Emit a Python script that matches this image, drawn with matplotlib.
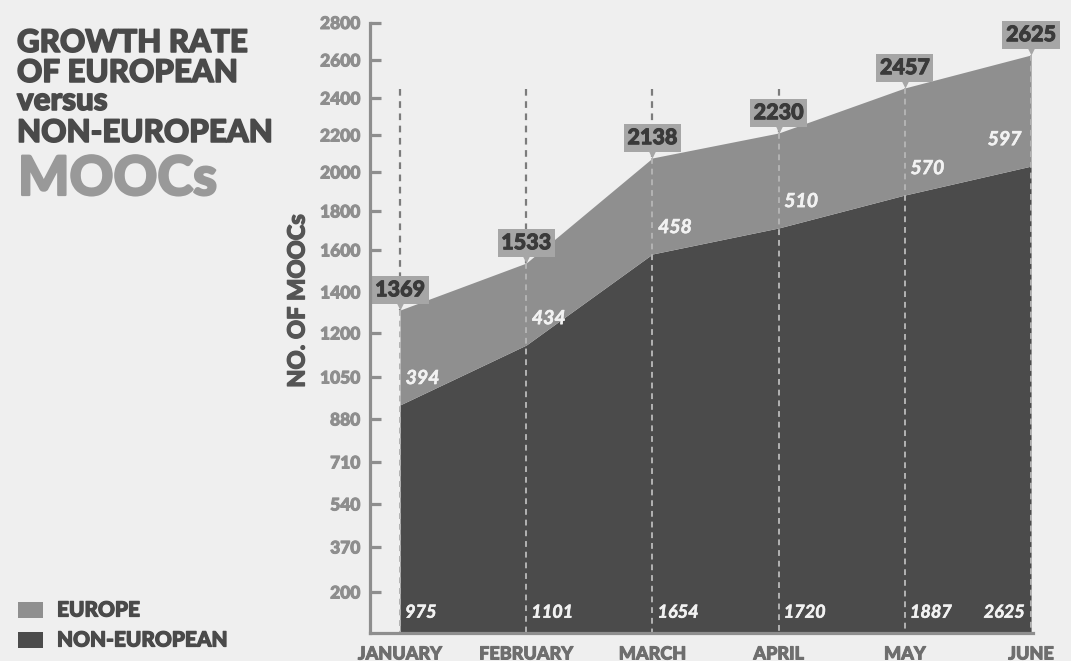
import numpy as np
import matplotlib.pyplot as plt
from matplotlib.patches import Rectangle
import matplotlib.transforms as mtransforms
import matplotlib.patheffects as pe

plt.rcParams['font.family'] = ['Lato', 'DejaVu Sans']

# data
months = ['JANUARY', 'FEBRUARY', 'MARCH', 'APRIL', 'MAY', 'JUNE']
total_labels = [1369, 1533, 2138, 2230, 2457, 2625]
europe_labels = [394, 434, 458, 510, 570, 597]
noneu_labels = [975, 1101, 1654, 1720, 1887, 2625]
# area edges as drawn in the picture
total_top = [1312, 1538, 2076, 2211, 2453, 2627]
noneu_top = [937, 1159, 1581, 1713, 1882, 2032]

yticks = [200, 370, 540, 710, 880, 1050, 1200, 1400, 1600, 1800, 2000, 2200, 2400, 2600, 2800]

# uneven axis: tick values spaced as in the original
scale_vals = [30] + yticks + [3200]
scale_pos = [0, 41, 86, 129, 171, 214, 256, 300, 341, 383, 422, 461, 498, 535, 573, 610.5, 687]

def fwd(v):
    return np.interp(v, scale_vals, scale_pos)

def inv(p):
    return np.interp(p, scale_pos, scale_vals)

# colors
bg = '#efefef'
dark = '#4b4b4b'
light = '#8f8f8f'
axis_col = '#8e8e8e'
text_dark = '#4a4a4a'

W, H = 1071, 661
def fx(px):
    return px / W
def fy(py):
    return 1 - py / H

# fake a heavier weight than Lato Bold
def thick(col, w=0.8):
    return [pe.withStroke(linewidth=w, foreground=col)]

fig = plt.figure(figsize=(W / 100, H / 100), dpi=100, facecolor=bg)
ax = fig.add_axes([fx(370), fy(633), fx(1033) - fx(370), fy(22.5) - fy(633)])
ax.set_facecolor(bg)
ax.set_yscale('function', functions=(fwd, inv))
ax.set_ylim(30, 2800)
ax.set_xlim(-0.238, 5.015)

x = np.arange(len(months))

ax.fill_between(x, 30, noneu_top, color=dark, lw=0, zorder=2)
ax.fill_between(x, noneu_top, total_top, color=light, lw=0, zorder=2)

# dashed guide lines
for i in range(len(months)):
    top = max(2450, total_top[i])
    ax.plot([i, i], [top, total_top[i]], color='#7c7c7c', lw=1.6,
            dashes=(3, 2.5), zorder=3, clip_on=False)
    ax.plot([i, i], [total_top[i], 30], color='#b3b3b3', lw=1.4,
            dashes=(3, 2.5), zorder=3, clip_on=False)

# total labels in boxes with pointer
tri = mtransforms.offset_copy(ax.transData, fig=fig, x=0, y=4, units='points')
ax.plot(x, total_top, ls='none', marker='v', ms=9, color='#a6a6a6',
        mec='none', transform=tri, zorder=5, clip_on=False)
for i, v in enumerate(total_labels):
    t = ax.annotate(str(v), xy=(i, total_top[i]), xytext=(0, 7),
                    textcoords='offset points', ha='center', va='bottom',
                    fontsize=15.5, fontweight='black', color='#3a3a3a', zorder=6,
                    annotation_clip=False,
                    bbox=dict(boxstyle='square,pad=0.17', fc='#a6a6a6', ec='none'))
    t.set_path_effects(thick('#3a3a3a', 0.7))

# europe labels
for i, v in enumerate(europe_labels):
    if i == len(months) - 1:
        off, ha = -7, 'right'
    else:
        off, ha = 4, 'left'
    ax.annotate(str(v), xy=(i, noneu_top[i]), xytext=(off, 19),
                textcoords='offset points', ha=ha, va='center',
                fontsize=14, fontstyle='italic', fontweight='bold',
                color='#f2f2f2', zorder=6, path_effects=thick('#f2f2f2', 0.4))

# non-european labels at bottom
btrans = mtransforms.blended_transform_factory(ax.transData, ax.transAxes)
for i, v in enumerate(noneu_labels):
    if i == len(months) - 1:
        off, ha = -0.05, 'right'
    else:
        off, ha = 0.04, 'left'
    ax.text(i + off, 0.034, str(v), transform=btrans, ha=ha, va='center',
            fontsize=13, fontstyle='italic', fontweight='bold',
            color='#f2f2f2', zorder=6, path_effects=thick('#f2f2f2', 0.4))

# axes styling
for s in ['top', 'right']:
    ax.spines[s].set_visible(False)
for s in ['left', 'bottom']:
    ax.spines[s].set_color(axis_col)
    ax.spines[s].set_linewidth(2.3)
    ax.spines[s].set_zorder(7)

ax.set_yticks(yticks)
ax.set_yticklabels([str(t) for t in yticks])
ax.yaxis.set_minor_locator(plt.NullLocator())
ax.tick_params(axis='y', direction='in', length=8, width=2.3, color=axis_col,
               labelcolor=axis_col, labelsize=12.5, pad=7)
for lab in ax.get_yticklabels():
    lab.set_fontweight('black')
    lab.set_path_effects(thick(axis_col, 0.7))

ax.set_xticks(x)
ax.set_xticklabels(months)
ax.tick_params(axis='x', length=0, labelcolor='#6e6e6e', labelsize=13, pad=9)
for lab in ax.get_xticklabels():
    lab.set_fontweight('black')
    lab.set_path_effects(thick('#6e6e6e', 0.7))

fig.text(fx(297), fy(301), 'NO. OF MOOCs', rotation=90, ha='center', va='center',
         fontsize=17, fontweight='black', color='#555555',
         path_effects=thick('#555555', 0.9))

# title
title_lines = [('GROWTH RATE', 52), ('OF EUROPEAN', 82), ('versus', 110), ('NON-EUROPEAN', 142)]
for txt, base in title_lines:
    fig.text(fx(17), fy(base), txt, ha='left', va='baseline', fontsize=22.5,
             fontweight='black', color=text_dark, path_effects=thick(text_dark, 1.1))
fig.text(fx(18), fy(195), 'MOOCs', ha='left', va='baseline', fontsize=39,
         fontweight='black', color='#999999', path_effects=thick('#999999', 1.6))

# legend
legend_items = [('EUROPE', light, 610), ('NON-EUROPEAN', dark, 640)]
for name, col, cy in legend_items:
    fig.add_artist(Rectangle((fx(18), fy(cy + 8)), fx(25), fy(cy - 8) - fy(cy + 8),
                             transform=fig.transFigure, color=col, lw=0))
    fig.text(fx(57), fy(cy), name, ha='left', va='center', fontsize=15,
             fontweight='black', color=text_dark, path_effects=thick(text_dark, 0.9))

fig.savefig('out.png', dpi=100, facecolor=bg)
